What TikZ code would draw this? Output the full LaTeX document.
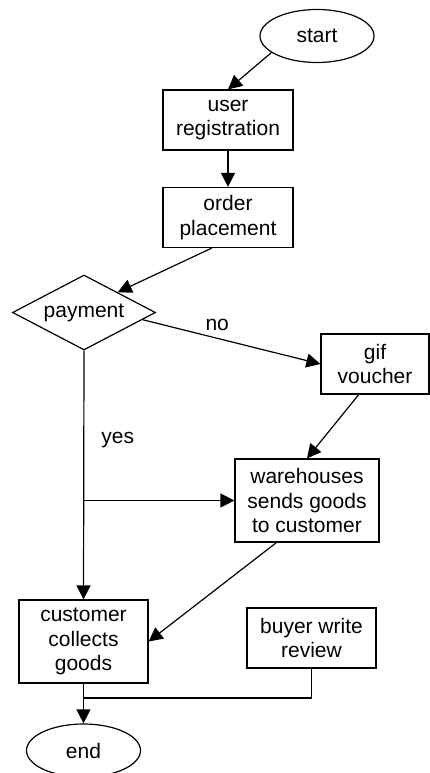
\documentclass[tikz,border=0pt]{standalone}
\usepackage{fontspec}
\setmainfont{Liberation Sans}
\usetikzlibrary{shapes.geometric,arrows.meta}

\begin{document}
\begin{tikzpicture}[x=1pt,y=-1pt,line width=1.2pt,
  font=\fontsize{21}{24.5}\selectfont,
  every node/.style={align=center,inner sep=0pt},
  term/.style={draw,ellipse,minimum width=114pt,minimum height=53pt},
  box/.style={draw,rectangle,minimum width=129pt,minimum height=60pt},
  decision/.style={draw,diamond,aspect=1.9,minimum width=143pt,minimum height=75pt},
  flow/.style={-{Triangle[length=14pt,width=14pt]}}]
\useasboundingbox (0,0) rectangle (429,773);

% Start and sign-up
\node[term] (start) at (317,36) {start};
\node[box,minimum width=130pt] (user) at (228,120) {user\\registration};
\node[box,minimum width=130pt] (order) at (228,217.5) {order\\placement};

% Payment check
\node[decision] (payment) at (84,312.5) {payment};
\node[box,minimum width=108pt] (gif) at (375,364) {gif\\voucher};

% Delivery
\node[box,minimum width=144pt,minimum height=83pt] (warehouse) at (307,500.5) {warehouses\\sends goods\\to customer};
\node[box,minimum height=83pt] (customer) at (83.5,641.5) {customer\\collects\\goods};
\node[box] (review) at (311.5,638) {buyer write\\review};

% End
\node[term] (end) at (83.5,750.5) {end};

% Branch points
\coordinate (split) at (payment.south |- warehouse.west);
\coordinate (join) at (customer.south |- 0,698);

% Connectors
\draw[flow] (start.-160) -- (user.north);
\draw[flow] (user) -- (order);
\draw[flow] (order.-118) -- (payment.31);
\draw[flow] (payment.-7) -- node[pos=0.42,above=7pt] {no} (gif.west);
\draw[flow] (gif.-118) -- (warehouse.north);
\draw[flow] (payment.south) -- node[pos=0.36,right=17pt] {yes} (customer.north);
\draw[flow] (split) -- (warehouse.west);
\draw[flow] (warehouse.-126) -- (customer.east);
\draw (review.south) |- (join);
\draw[flow] (customer) -- (end);

\end{tikzpicture}
\end{document}
